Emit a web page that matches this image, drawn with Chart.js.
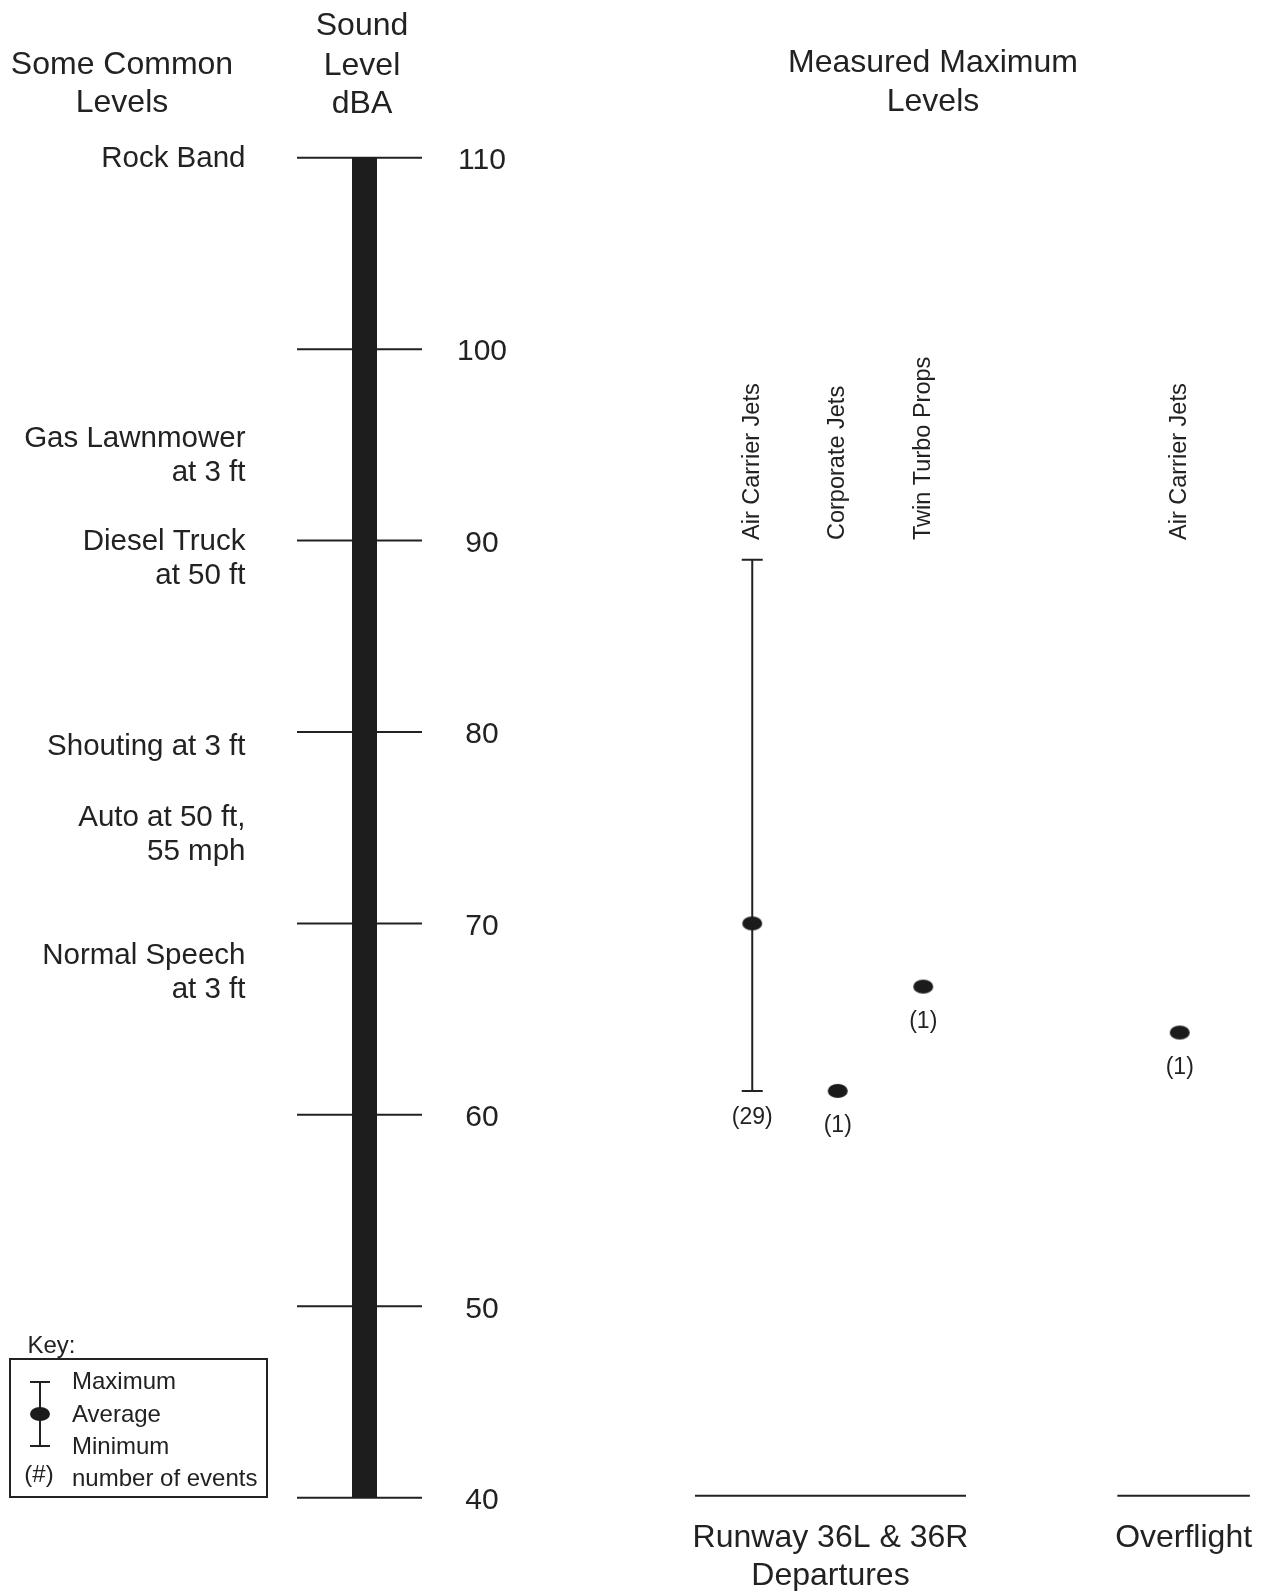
<!DOCTYPE html>
<html>
<head>
<meta charset="utf-8">
<script src="https://cdn.jsdelivr.net/npm/chart.js@4/dist/chart.umd.min.js"></script>
<style>
html,body{margin:0;padding:0;background:#ffffff;}
#wrap{position:relative;width:1266px;height:1591px;}
</style>
</head>
<body>
<div id="wrap"><canvas id="c"></canvas></div>
<script>
// ---- data ----
const slotLabels = ['Air Carrier Jets', 'Corporate Jets', 'Twin Turbo Props', '', '', 'Air Carrier Jets'];
const avgLevels = [70.0, 61.25, 66.7, null, null, 64.3];
const maxLevels = [89.0, null, null, null, null, null];
const minLevels = [61.25, null, null, null, null, null];
const eventCounts = [29, 1, 1, null, null, 1];
const scaleTicks = [40, 50, 60, 70, 80, 90, 100, 110];
const commonSources = [['Rock Band'], ['Gas Lawnmower', 'at 3 ft'], ['Diesel Truck', 'at 50 ft'], ['Shouting at 3 ft'], ['Auto at 50 ft,', '55 mph'], ['Normal Speech', 'at 3 ft']];
const commonLevels = [110, 95.4, 90, 79.3, 75.6, 68.4];
const groupNames = [['Runway 36L & 36R', 'Departures'], ['Overflight']];
const groupSpans = [[-0.67, 2.5], [4.27, 5.82]];
const keyLabels = ['Maximum', 'Average', 'Minimum', 'number of events'];

const FONT = '"Liberation Sans", Arial, Helvetica, sans-serif';
const INK = '#222222';

const dotImg = (() => {
  const c = document.createElement('canvas');
  c.width = 22; c.height = 16;
  const g = c.getContext('2d');
  g.fillStyle = '#1b1b1b';
  g.beginPath(); g.ellipse(11, 8, 10, 7, 0, 0, Math.PI * 2); g.fill();
  return c;
})();

function txt(ctx, s, x, y, size, align) {
  ctx.font = size + 'px ' + FONT;
  ctx.textAlign = align || 'center';
  ctx.textBaseline = 'middle';
  ctx.fillStyle = INK;
  ctx.fillText(s, x, y);
}

const errorBars = {
  id: 'errorBars',
  beforeDatasetsDraw(chart) {
    const ctx = chart.ctx, xs = chart.scales.x, ys = chart.scales.y;
    ctx.save();
    ctx.strokeStyle = INK; ctx.lineWidth = 2;
    maxLevels.forEach((mx, i) => {
      if (mx == null) return;
      const px = xs.getPixelForValue(i);
      const t = ys.getPixelForValue(mx), b = ys.getPixelForValue(minLevels[i]);
      ctx.beginPath();
      ctx.moveTo(px, t); ctx.lineTo(px, b);
      ctx.moveTo(px - 10.5, t); ctx.lineTo(px + 10.5, t);
      ctx.moveTo(px - 10.5, b); ctx.lineTo(px + 10.5, b);
      ctx.stroke();
    });
    ctx.restore();
  }
};

const decor = {
  id: 'decor',
  afterDraw(chart) {
    const ctx = chart.ctx, xs = chart.scales.x, ys = chart.scales.y;
    ctx.save();
    // headers
    txt(ctx, 'Some Common', 122, 65, 32);
    txt(ctx, 'Levels', 122, 103.5, 32);
    txt(ctx, 'Sound', 362, 26.5, 32);
    txt(ctx, 'Level', 362, 66, 32);
    txt(ctx, 'dBA', 362, 104.5, 32);
    txt(ctx, 'Measured Maximum', 933, 63, 32);
    txt(ctx, 'Levels', 933, 102.5, 32);

    // central scale bar + ticks
    const yTop = ys.getPixelForValue(110), yBot = ys.getPixelForValue(40);
    ctx.strokeStyle = INK; ctx.lineWidth = 2;
    scaleTicks.forEach(v => {
      const py = ys.getPixelForValue(v);
      ctx.beginPath(); ctx.moveTo(297, py); ctx.lineTo(422, py); ctx.stroke();
      txt(ctx, String(v), 482, py + 3, 30);
    });
    ctx.fillStyle = '#1d1d1d';
    ctx.fillRect(352, yTop, 25, yBot - yTop);

    // common levels
    commonSources.forEach((lines, i) => {
      const py = ys.getPixelForValue(commonLevels[i]) + 1.5;
      lines.forEach((s, k) => txt(ctx, s, 245.5, py + k * 34, 29.5, 'right'));
    });

    // category labels (rotated)
    slotLabels.forEach((s, i) => {
      if (!s) return;
      const px = xs.getPixelForValue(i);
      ctx.save();
      ctx.translate(px, 540);
      ctx.rotate(-Math.PI / 2);
      ctx.font = '23.5px ' + FONT;
      ctx.textAlign = 'left'; ctx.textBaseline = 'middle'; ctx.fillStyle = INK;
      ctx.fillText(s, 0, 0);
      ctx.restore();
    });

    // event counts
    eventCounts.forEach((n, i) => {
      if (n == null) return;
      const px = xs.getPixelForValue(i);
      let py;
      if (minLevels[i] != null) py = ys.getPixelForValue(minLevels[i]) + 27;
      else py = ys.getPixelForValue(avgLevels[i]) + 35;
      txt(ctx, '(' + n + ')', px, py, 23);
    });

    // group lines + labels
    ctx.strokeStyle = INK; ctx.lineWidth = 2;
    groupSpans.forEach((sp, g) => {
      const x0 = xs.getPixelForValue(sp[0]), x1 = xs.getPixelForValue(sp[1]);
      ctx.beginPath(); ctx.moveTo(x0, yBot - 2); ctx.lineTo(x1, yBot - 2); ctx.stroke();
      groupNames[g].forEach((s, k) => txt(ctx, s, (x0 + x1) / 2, 1538 + k * 38.5, 32));
    });

    // key
    txt(ctx, 'Key:', 27.5, 1346, 24, 'left');
    ctx.lineWidth = 2; ctx.strokeStyle = INK;
    ctx.strokeRect(10, 1359, 257, 138);
    ctx.beginPath();
    ctx.moveTo(40, 1382); ctx.lineTo(40, 1446);
    ctx.moveTo(30, 1382); ctx.lineTo(50, 1382);
    ctx.moveTo(30, 1446); ctx.lineTo(50, 1446);
    ctx.stroke();
    ctx.drawImage(dotImg, 29, 1406);
    const ky = [1382.5, 1415, 1447, 1479];
    keyLabels.forEach((s, k) => txt(ctx, s, 72, ky[k], 24, 'left'));
    txt(ctx, '(#)', 39, 1475, 24);
    ctx.restore();
  }
};

new Chart(document.getElementById('c'), {
  type: 'line',
  data: {
    labels: slotLabels,
    datasets: [{
      data: avgLevels,
      showLine: false,
      pointStyle: dotImg,
      pointRadius: 10,
      borderColor: '#1b1b1b',
      backgroundColor: '#1b1b1b'
    }]
  },
  options: {
    responsive: true,
    maintainAspectRatio: false,
    animation: false,
    events: [],
    layout: { padding: { left: 709.5, right: 43.5, top: 157.7, bottom: 93.3 } },
    plugins: { legend: { display: false }, tooltip: { enabled: false } },
    scales: {
      x: { type: 'category', offset: true, display: false },
      y: { type: 'linear', min: 40, max: 110, display: false }
    }
  },
  plugins: [errorBars, decor]
});
</script>
</body>
</html>
